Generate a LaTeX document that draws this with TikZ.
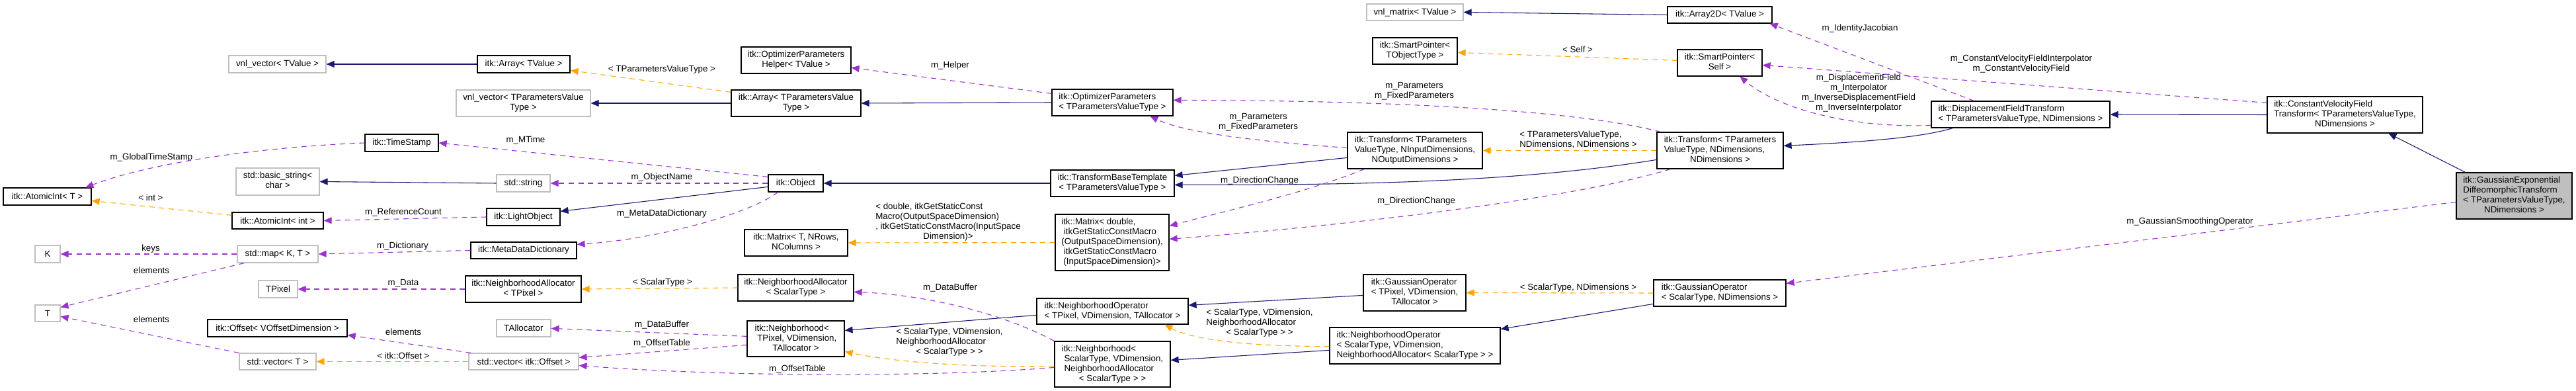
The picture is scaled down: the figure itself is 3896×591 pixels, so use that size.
\documentclass[tikz,border=0pt]{standalone}
\usepackage{fontspec}
\setmainfont{Liberation Sans}
\usetikzlibrary{arrows.meta,calc}
\definecolor{inhcol}{HTML}{191970}
\definecolor{memcol}{HTML}{9A32CD}
\definecolor{tplcol}{HTML}{FFA500}
\definecolor{extcol}{HTML}{BFBFBF}
\newcommand\fnt{\fontsize{10}{11.25}\selectfont}
\newcommand\mlbox[1]{\begin{tabular}{@{}l@{}}#1\end{tabular}}
\newcommand\lastc[1]{\multicolumn{1}{@{}c@{}}{#1}}
\newcommand\cbox[7][cls]{%
  \pgfmathsetmacro\cbw{(#5-#3)*0.75}%
  \pgfmathsetmacro\cbh{(#6-#4)*0.75}%
  \node[#1, minimum width=\cbw pt, minimum height=\cbh pt] (#2) at ({(#3+#5)/2},{(#4+#6)/2}) {#7};}
\tikzset{
  cls/.style={draw=black, line width=0.9pt, fill=white, inner sep=0pt, font=\fnt},
  ext/.style={cls, draw=extcol},
  cur/.style={cls, fill=extcol},
  lab/.style={inner sep=0pt, font=\fnt, align=center},
  edgebase/.style={line width=0.8pt, -{Triangle[length=9pt,width=7.5pt]}},
  inh/.style={edgebase, draw=inhcol},
  tpl/.style={edgebase, draw=tplcol, dash pattern=on 6pt off 5pt},
  mem/.style={edgebase, draw=memcol, dash pattern=on 6pt off 5pt}
}
\begin{document}
\begin{tikzpicture}[x=0.75pt,y=-0.75pt]
\fill[white] (0,0) rectangle (3896,591);
\useasboundingbox (0,0) rectangle (3896,591);

% ---- class boxes
\cbox[cls]{atomT}{5}{284}{138}{310}{itk::AtomicInt< T >}
\cbox[ext]{K}{53}{371}{91}{397}{K}
\cbox[ext]{T}{53}{461}{91}{486}{T}
\cbox[ext]{vnlvec}{346}{84}{493}{110}{vnl\_vector< TValue >}
\cbox[ext]{bstr}{357}{254}{483}{295}{\mlbox{std::basic\_string<\\\lastc{char >}}}
\cbox[cls]{atomInt}{351}{321}{489}{346}{itk::AtomicInt< int >}
\cbox[ext]{map}{359}{371}{481}{397}{std::map< K, T >}
\cbox[ext]{TPixel}{391}{424}{450}{450}{TPixel}
\cbox[cls]{offset}{314}{483}{525}{509}{itk::Offset< VOffsetDimension >}
\cbox[ext]{vecT}{362}{534}{478}{559}{std::vector< T >}
\cbox[cls]{timestamp}{552}{203}{663}{229}{itk::TimeStamp}
\cbox[cls]{arrT}{722}{84}{862}{110}{itk::Array< TValue >}
\cbox[ext]{vnlvecP}{690}{136}{893}{176}{\mlbox{vnl\_vector< TParametersValue\\\lastc{Type >}}}
\cbox[ext]{string}{751}{264}{832}{290}{std::string}
\cbox[cls]{light}{736}{315}{847}{341}{itk::LightObject}
\cbox[cls]{mdd}{712}{366}{872}{391}{itk::MetaDataDictionary}
\cbox[cls]{naT}{704}{417}{879}{457}{\mlbox{itk::NeighborhoodAllocator\\\lastc{< TPixel >}}}
\cbox[ext]{talloc}{751}{483}{833}{509}{TAllocator}
\cbox[ext]{vecOff}{709}{534}{875}{559}{std::vector< itk::Offset >}
\cbox[cls]{oph}{1121}{71}{1287}{111}{\mlbox{itk::OptimizerParameters\\\lastc{Helper< TValue >}}}
\cbox[cls]{arrP}{1106}{136}{1302}{176}{\mlbox{itk::Array< TParametersValue\\\lastc{Type >}}}
\cbox[cls]{object}{1162}{264}{1245}{290}{itk::Object}
\cbox[cls]{matT}{1126}{347}{1282}{387}{\mlbox{itk::Matrix< T, NRows,\\\lastc{NColumns >}}}
\cbox[cls]{naS}{1116}{415}{1291}{455}{\mlbox{itk::NeighborhoodAllocator\\\lastc{< ScalarType >}}}
\cbox[cls]{nbT}{1130}{485}{1277}{539}{\mlbox{itk::Neighborhood<\\\ TPixel, VDimension,\\\lastc{TAllocator >}}}
\cbox[cls]{op}{1591}{135}{1774}{175}{\mlbox{itk::OptimizerParameters\\\lastc{< TParametersValueType >}}}
\cbox[cls]{tbt}{1589}{257}{1776}{297}{\mlbox{itk::TransformBaseTemplate\\\lastc{< TParametersValueType >}}}
\cbox[cls]{matD}{1596}{324}{1768}{409}{\mlbox{itk::Matrix< double,\\\ itkGetStaticConstMacro\\(OutputSpaceDimension),\\\ itkGetStaticConstMacro\\\lastc{(InputSpaceDimension)>}}}
\cbox[cls]{noT}{1568}{451}{1797}{490}{\mlbox{itk::NeighborhoodOperator\\\lastc{< TPixel, VDimension, TAllocator >}}}
\cbox[cls]{nbS}{1595}{516}{1770}{585}{\mlbox{itk::Neighborhood<\\\ ScalarType, VDimension,\\\ NeighborhoodAllocator\\\lastc{< ScalarType > >}}}
\cbox[ext]{vnlmat}{2067}{6}{2213}{31}{vnl\_matrix< TValue >}
\cbox[cls]{spT}{2076}{57}{2204}{97}{\mlbox{itk::SmartPointer<\\\lastc{TObjectType >}}}
\cbox[cls]{trI}{2038}{200}{2242}{255}{\mlbox{itk::Transform< TParameters\\ValueType, NInputDimensions,\\\lastc{NOutputDimensions >}}}
\cbox[cls]{goT}{2062}{415}{2217}{470}{\mlbox{itk::GaussianOperator\\< TPixel, VDimension,\\\lastc{TAllocator >}}}
\cbox[cls]{noS}{2011}{495}{2269}{550}{\mlbox{itk::NeighborhoodOperator\\< ScalarType, VDimension,\\\lastc{NeighborhoodAllocator< ScalarType > >}}}
\cbox[cls]{arr2d}{2522}{10}{2680}{35}{itk::Array2D< TValue >}
\cbox[cls]{spS}{2537}{75}{2665}{115}{\mlbox{itk::SmartPointer<\\\lastc{Self >}}}
\cbox[cls]{trN}{2506}{200}{2697}{255}{\mlbox{itk::Transform< TParameters\\ValueType, NDimensions,\\\lastc{NDimensions >}}}
\cbox[cls]{goS}{2501}{423}{2701}{463}{\mlbox{itk::GaussianOperator\\\lastc{< ScalarType, NDimensions >}}}
\cbox[cls]{dft}{2921}{153}{3191}{193}{\mlbox{itk::DisplacementFieldTransform\\\lastc{< TParametersValueType, NDimensions >}}}
\cbox[cls]{cvft}{3429}{146}{3664}{201}{\mlbox{itk::ConstantVelocityField\\Transform< TParametersValueType,\\\lastc{NDimensions >}}}
\cbox[cur]{ge}{3715}{261}{3890}{331}{\mlbox{itk::GaussianExponential\\DiffeomorphicTransform\\< TParametersValueType,\\\lastc{NDimensions >}}}

% ---- edge labels
\node[lab] (lGTS) at (229,238) {m\_GlobalTimeStamp};
\node[lab] (lInt) at (228,299) {< int >};
\node[lab] (lRef) at (610,321) {m\_ReferenceCount};
\node[lab] (lKeys) at (228,376) {keys};
\node[lab] (lEl1) at (229,409) {elements};
\node[lab] (lEl2) at (229,483) {elements};
\node[lab] (lDict) at (609,372) {m\_Dictionary};
\node[lab] (lData) at (610,428) {m\_Data};
\node[lab] (lEl3) at (610,502) {elements};
\node[lab] (lOff) at (610,538) {< itk::Offset >};
\node[lab] (lMT) at (795,212) {m\_MTime};
\node[lab] (lTPV) at (1001,105) {< TParametersValueType >};
\node[lab] (lON) at (1001,268) {m\_ObjectName};
\node[lab] (lMDD) at (1001,323) {m\_MetaDataDictionary};
\node[lab] (lST) at (1002,427) {< ScalarType >};
\node[lab] (lDB1) at (1001,491) {m\_DataBuffer};
\node[lab] (lOT1) at (1001,519) {m\_OffsetTable};
\node[lab] (lOT2) at (1206,558) {m\_OffsetTable};
\node[lab] (lHelp) at (1437,99) {m\_Helper};
\node[lab] (lMat) at (1434,336) {\mlbox{< double, itkGetStaticConst\\Macro(OutputSpaceDimension)\\, itkGetStaticConstMacro(InputSpace\\\lastc{Dimension)>}}};
\node[lab] (lDB2) at (1437,435) {m\_DataBuffer};
\node[lab] (lNB) at (1436,517) {\mlbox{< ScalarType, VDimension,\\NeighborhoodAllocator\\\lastc{< ScalarType > >}}};
\node[lab] (lPar1) at (1903,184.5) {m\_Parameters\\m\_FixedParameters};
\node[lab] (lDC1) at (1905,273) {m\_DirectionChange};
\node[lab] (lNO) at (1905,488) {\mlbox{< ScalarType, VDimension,\\NeighborhoodAllocator\\\lastc{< ScalarType > >}}};
\node[lab] (lSelf) at (2386,75) {< Self >};
\node[lab] (lPar2) at (2139,137.5) {m\_Parameters\\m\_FixedParameters};
\node[lab] (lTr) at (2387,212) {\mlbox{< TParametersValueType,\\NDimensions, NDimensions >}};
\node[lab] (lDC2) at (2142,304) {m\_DirectionChange};
\node[lab] (lGO) at (2387,435) {< ScalarType, NDimensions >};
\node[lab] (lIJ) at (2813,43) {m\_IdentityJacobian};
\node[lab] (lCVF) at (3057,97) {m\_ConstantVelocityFieldInterpolator\\m\_ConstantVelocityField};
\node[lab] (lDF) at (2811,141) {m\_DisplacementField\\m\_Interpolator\\m\_InverseDisplacementField\\m\_InverseInterpolator};
\node[lab] (lGSO) at (3312,335) {m\_GaussianSmoothingOperator};

% ---- inheritance
\draw[inh] (arrT.west) -- (vnlvec.east);
\draw[inh] (arrP.west) -- (vnlvecP.east);
\draw[inh] (op.west) -- (arrP.east);
\draw[inh] ($(object.north west)+(0,19)$) -- ($(light.north east)+(0,5)$);
\draw[inh] (string.west) -- (bstr.east);
\draw[inh] (tbt.west) -- (object.east);
\draw[inh] ($(trI.north west)+(0,39)$) -- ($(tbt.north east)+(0,9)$);
\draw[inh] ($(trN.north west)+(0,42)$) .. controls (2300,275) and (2050,280) .. ($(tbt.north east)+(0,23)$);
\draw[inh] ($(dft.south west)+(33,0)$) .. controls (2900,210) and (2790,216) .. ($(trN.north east)+(0,21)$);
\draw[inh] (cvft.west) -- (dft.east);
\draw[inh] ($(ge.north west)+(14,0)$) -- ($(cvft.south west)+(184,0)$);
\draw[inh] (arr2d.west) -- (vnlmat.east);
\draw[inh] ($(noT.north west)+(0,26)$) -- ($(nbT.north east)+(0,15)$);
\draw[inh] ($(goT.north west)+(0,32)$) -- ($(noT.north east)+(0,11)$);
\draw[inh] ($(noS.north west)+(0,35)$) -- ($(nbS.north east)+(0,29)$);
\draw[inh] ($(goS.north west)+(0,37)$) -- ($(noS.north east)+(0,3)$);

% ---- template instances
\draw[tpl] ($(arrP.north west)+(0,4)$) -- ($(arrT.north east)+(0,23)$);
\draw[tpl] ($(atomInt.north west)+(0,5)$) -- ($(atomT.north east)+(0,20)$);
\draw[tpl] (naS.west) -- (naT.east);
\draw[tpl] (vecOff.west) -- (vecT.east);
\draw[tpl] (matD.west) -- (matT.east);
\draw[tpl] ($(nbS.north west)+(0,38)$) .. controls (1450,556) and (1340,545) .. ($(nbT.north east)+(0,47)$);
\draw[tpl] ($(noS.north west)+(0,29)$) .. controls (1880,524) and (1800,512) .. ($(noT.south west)+(194,0)$);
\draw[tpl] (goS.west) -- (goT.east);
\draw[tpl] (trN.west) -- (trI.east);
\draw[tpl] ($(spS.north west)+(0,17)$) -- ($(spT.north east)+(0,23)$);

% ---- members
\draw[mem] (timestamp.west) .. controls (400,222) and (230,245) .. ($(atomT.north west)+(125,0)$);
\draw[mem] (light.west) -- (atomInt.east);
\draw[mem] (mdd.west) -- (map.east);
\draw[mem] ($(object.north west)+(0,4)$) -- (timestamp.east);
\draw[mem] (object.west) -- (string.east);
\draw[mem] ($(object.south west)+(15,0)$) .. controls (1130,325) and (990,362) .. ($(mdd.north east)+(0,4)$);
\draw[mem] (map.west) -- (K.east);
\draw[mem] ($(map.south west)+(11,0)$) -- ($(T.north east)+(0,4)$);
\draw[mem] (vecT.north west) -- ($(T.north east)+(0,18)$);
\draw[mem] (naT.west) -- (TPixel.east);
\draw[mem] ($(vecOff.north west)+(4,0)$) -- ($(offset.north east)+(0,24)$);
\draw[mem] ($(nbT.north west)+(0,24)$) -- ($(talloc.north east)+(0,14)$);
\draw[mem] ($(nbT.north west)+(0,37)$) -- ($(vecOff.north east)+(0,7)$);
\draw[mem] ($(nbS.north west)+(0,40)$) .. controls (1420,570) and (1100,570) .. ($(vecOff.north east)+(0,19)$);
\draw[mem] (nbS.north west) .. controls (1510,470) and (1390,445) .. ($(naS.north east)+(0,27)$);
\draw[mem] ($(op.north west)+(0,7)$) -- ($(oph.north east)+(0,32)$);
\draw[mem] ($(trI.north west)+(0,24)$) .. controls (1900,214) and (1790,200) .. ($(op.south west)+(149,0)$);
\draw[mem] ($(trN.north west)+(6,0)$) .. controls (2400,170) and (2150,152) .. ($(op.north east)+(0,17)$);
\draw[mem] ($(trI.south west)+(26,0)$) .. controls (1980,290) and (1850,320) .. ($(matD.north east)+(0,18)$);
\draw[mem] ($(trN.south west)+(21,0)$) .. controls (2380,300) and (2050,340) .. ($(matD.north east)+(0,38)$);
\draw[mem] ($(dft.north west)+(65,0)$) -- ($(arr2d.south east)+(-4,0)$);
\draw[mem] ($(dft.north west)+(0,37)$) .. controls (2800,194) and (2690,165) .. ($(spS.south west)+(95,0)$);
\draw[mem] ($(cvft.north west)+(0,10)$) -- ($(spS.north east)+(0,24)$);
\draw[mem] ($(ge.north west)+(0,45)$) -- ($(goS.north east)+(0,6)$);
\end{tikzpicture}
\end{document}
